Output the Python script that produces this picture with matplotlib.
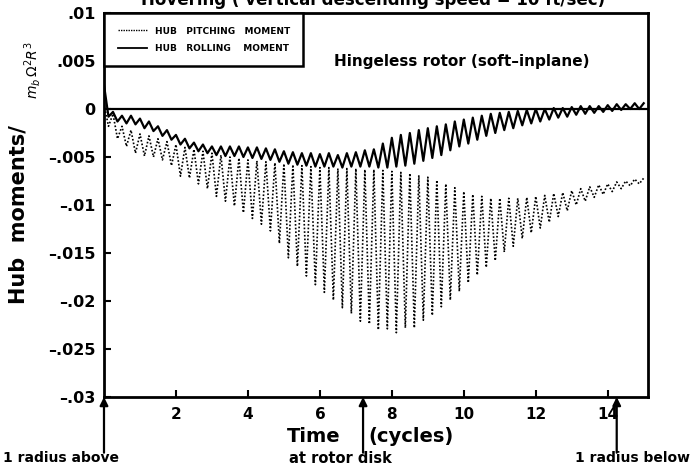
import numpy as np
import matplotlib
matplotlib.use("Agg")
import matplotlib.pyplot as plt
from matplotlib.lines import Line2D

# peak / trough values of each 4/rev oscillation, one entry per quarter cycle
ROLL_PEAKS = [
    0.0025, -0.0003, -0.0007, -0.0007, -0.0010, -0.0013, -0.0018, -0.0022,
    -0.0027, -0.0031, -0.0035, -0.0037, -0.0039, -0.0039, -0.0039, -0.0039,
    -0.0040, -0.0040, -0.0041, -0.0042, -0.0044, -0.0045, -0.0046, -0.0046,
    -0.0047, -0.0046, -0.0048, -0.0046, -0.0045, -0.0043, -0.0042, -0.0036,
    -0.0030, -0.0027, -0.0025, -0.0022, -0.0020, -0.0018, -0.0016, -0.0013,
    -0.0011, -0.0009, -0.0007, -0.0005, -0.0004, -0.0003, -0.0002, -0.0001,
    0.0000, 0.0000, 0.0001, 0.0001, 0.0002, 0.0003, 0.0003, 0.0003,
    0.0004, 0.0005, 0.0005, 0.0006, 0.0006,
]
ROLL_TROUGHS = [
    -0.0008, -0.0013, -0.0015, -0.0016, -0.0020, -0.0023, -0.0028, -0.0032,
    -0.0037, -0.0041, -0.0044, -0.0046, -0.0048, -0.0049, -0.0049, -0.0050,
    -0.0051, -0.0052, -0.0053, -0.0055, -0.0057, -0.0058, -0.0059, -0.0060,
    -0.0060, -0.0060, -0.0061, -0.0060, -0.0060, -0.0060, -0.0061, -0.0061,
    -0.0060, -0.0059, -0.0057, -0.0054, -0.0051, -0.0048, -0.0043, -0.0039,
    -0.0036, -0.0032, -0.0028, -0.0025, -0.0022, -0.0020, -0.0017, -0.0015,
    -0.0013, -0.0011, -0.0009, -0.0008, -0.0006, -0.0005, -0.0004, -0.0003,
    -0.0002, -0.0001, 0.0000, 0.0000,
]
PITCH_PEAKS = [
    0.0005, -0.0005, -0.0018, -0.0022, -0.0026, -0.0028, -0.0031, -0.0034,
    -0.0037, -0.0040, -0.0042, -0.0044, -0.0046, -0.0048, -0.0050, -0.0051,
    -0.0053, -0.0054, -0.0055, -0.0056, -0.0057, -0.0058, -0.0059, -0.0060,
    -0.0061, -0.0061, -0.0062, -0.0062, -0.0062, -0.0063, -0.0063, -0.0064,
    -0.0065, -0.0066, -0.0067, -0.0069, -0.0071, -0.0074, -0.0078, -0.0082,
    -0.0086, -0.0089, -0.0091, -0.0093, -0.0093, -0.0093, -0.0093, -0.0092,
    -0.0091, -0.0090, -0.0088, -0.0087, -0.0085, -0.0083, -0.0081, -0.0079,
    -0.0078, -0.0076, -0.0075, -0.0073, -0.0072,
]
PITCH_TROUGHS = [
    -0.0018, -0.0031, -0.0039, -0.0046, -0.0049, -0.0050, -0.0053, -0.0059,
    -0.0070, -0.0072, -0.0078, -0.0083, -0.0091, -0.0096, -0.0101, -0.0108,
    -0.0114, -0.0120, -0.0127, -0.0140, -0.0155, -0.0164, -0.0174, -0.0183,
    -0.0191, -0.0199, -0.0207, -0.0213, -0.0221, -0.0224, -0.0230, -0.0229,
    -0.0233, -0.0228, -0.0228, -0.0220, -0.0215, -0.0206, -0.0199, -0.0190,
    -0.0181, -0.0173, -0.0165, -0.0158, -0.0149, -0.0143, -0.0135, -0.0129,
    -0.0124, -0.0118, -0.0112, -0.0106, -0.0100, -0.0096, -0.0092, -0.0089,
    -0.0086, -0.0083, -0.0080, -0.0078,
]

X_TICKS = [2, 4, 6, 8, 10, 12, 14]
Y_TICKS = [0.01, 0.005, 0, -0.005, -0.01, -0.015, -0.02, -0.025, -0.03]
Y_LABELS = [".01", ".005", "0", "\u2013.005", "\u2013.01", "\u2013.015",
            "\u2013.02", "\u2013.025", "\u2013.03"]

# rotor position markers under the time axis
MARK_T = [0.0, 7.2, 14.25]
MARK_TEXT = ["1 radius above", "at rotor disk", "1 radius below"]


def zigzag(peaks, troughs, step=0.25):
    """interleave peaks (at k*step) and troughs (half a step later)"""
    peaks = np.asarray(peaks)
    troughs = np.asarray(troughs)
    t = np.empty(len(peaks) + len(troughs))
    y = np.empty_like(t)
    t[0::2] = np.arange(len(peaks)) * step
    t[1::2] = np.arange(len(troughs)) * step + step / 2
    y[0::2] = peaks
    y[1::2] = troughs
    return t, y


t_roll, roll = zigzag(ROLL_PEAKS, ROLL_TROUGHS)
t_pitch, pitch = zigzag(PITCH_PEAKS, PITCH_TROUGHS)

plt.rcParams["font.family"] = "DejaVu Sans"
fig = plt.figure(figsize=(6.91, 4.71), dpi=100)
ax = fig.add_axes([0.1505, 0.1571, 0.7873, 0.8153])

ax.axhline(0, color="k", lw=1.6, zorder=1)
ax.plot(t_pitch, pitch, color="k", lw=1.2, ls=(0, (1, 1.2)), zorder=2)
ax.plot(t_roll, roll, color="k", lw=1.6, zorder=3)

ax.set_xlim(0, 15.12)
ax.set_ylim(-0.03, 0.01)
ax.set_xticks(X_TICKS)
ax.set_xticklabels([str(v) for v in X_TICKS], fontsize=11, fontweight="bold")
ax.set_yticks(Y_TICKS)
ax.set_yticklabels(Y_LABELS, fontsize=11.5, fontweight="bold")
ax.tick_params(direction="in", length=5, width=1.5, pad=6)
ax.tick_params(axis="x", pad=7)
for sp in ax.spines.values():
    sp.set_linewidth(2)

handles = [Line2D([], [], color="k", lw=1.0, ls=(0, (1, 0.8))),
           Line2D([], [], color="k", lw=1.3)]
leg = ax.legend(handles, ["HUB   PITCHING   MOMENT", "HUB   ROLLING    MOMENT"],
                loc="upper left", bbox_to_anchor=(0, 1), borderaxespad=0,
                fancybox=False, edgecolor="k", framealpha=1,
                prop={"size": 6.5, "weight": "bold"}, handlelength=3.3,
                labelspacing=0.9, borderpad=1.5, handletextpad=0.8)
leg.get_frame().set_linewidth(1.8)

ax.text(6.4, 0.005, "Hingeless rotor (soft\u2013inplane)", fontsize=11,
        fontweight="bold", va="center", ha="left")

# arrows from the position labels up to the time axis
for t in MARK_T:
    ax.annotate("", xy=(t, 0), xycoords=("data", "axes fraction"),
                xytext=(t, -0.145), textcoords=("data", "axes fraction"),
                arrowprops=dict(arrowstyle="-|>", lw=1.6, color="k",
                                mutation_scale=12, shrinkA=0, shrinkB=0),
                annotation_clip=False)
xt = ax.get_xaxis_transform()
ax.text(-2.8, -0.16, MARK_TEXT[0], transform=xt,
        fontsize=10, fontweight="bold", ha="left", va="center")
ax.text(5.15, -0.16, MARK_TEXT[1], transform=xt,
        fontsize=10.5, fontweight="bold", ha="left", va="center")
ax.text(16.3, -0.16, MARK_TEXT[2], transform=xt,
        fontsize=10, fontweight="bold", ha="right", va="center")

ax.text(6.57, -0.102, "Time", transform=xt,
        fontsize=14, fontweight="bold", ha="right", va="center")
ax.text(7.35, -0.102, "(cycles)", transform=xt,
        fontsize=14, fontweight="bold", ha="left", va="center")

fig.text(0.027, 0.544, "Hub  moments/", rotation=90, fontsize=15,
         fontweight="bold", ha="center", va="center")
fig.text(0.047, 0.85, r"$m_b\,\Omega^2R^3$", rotation=90, fontsize=10,
         ha="center", va="center")

# figure caption running off the top edge
fig.text(0.54, 0.989, "Hovering ( vertical descending speed = 10 ft/sec)",
         fontsize=12, fontweight="bold", ha="center", va="baseline")

fig.savefig("out.png", dpi=100)
